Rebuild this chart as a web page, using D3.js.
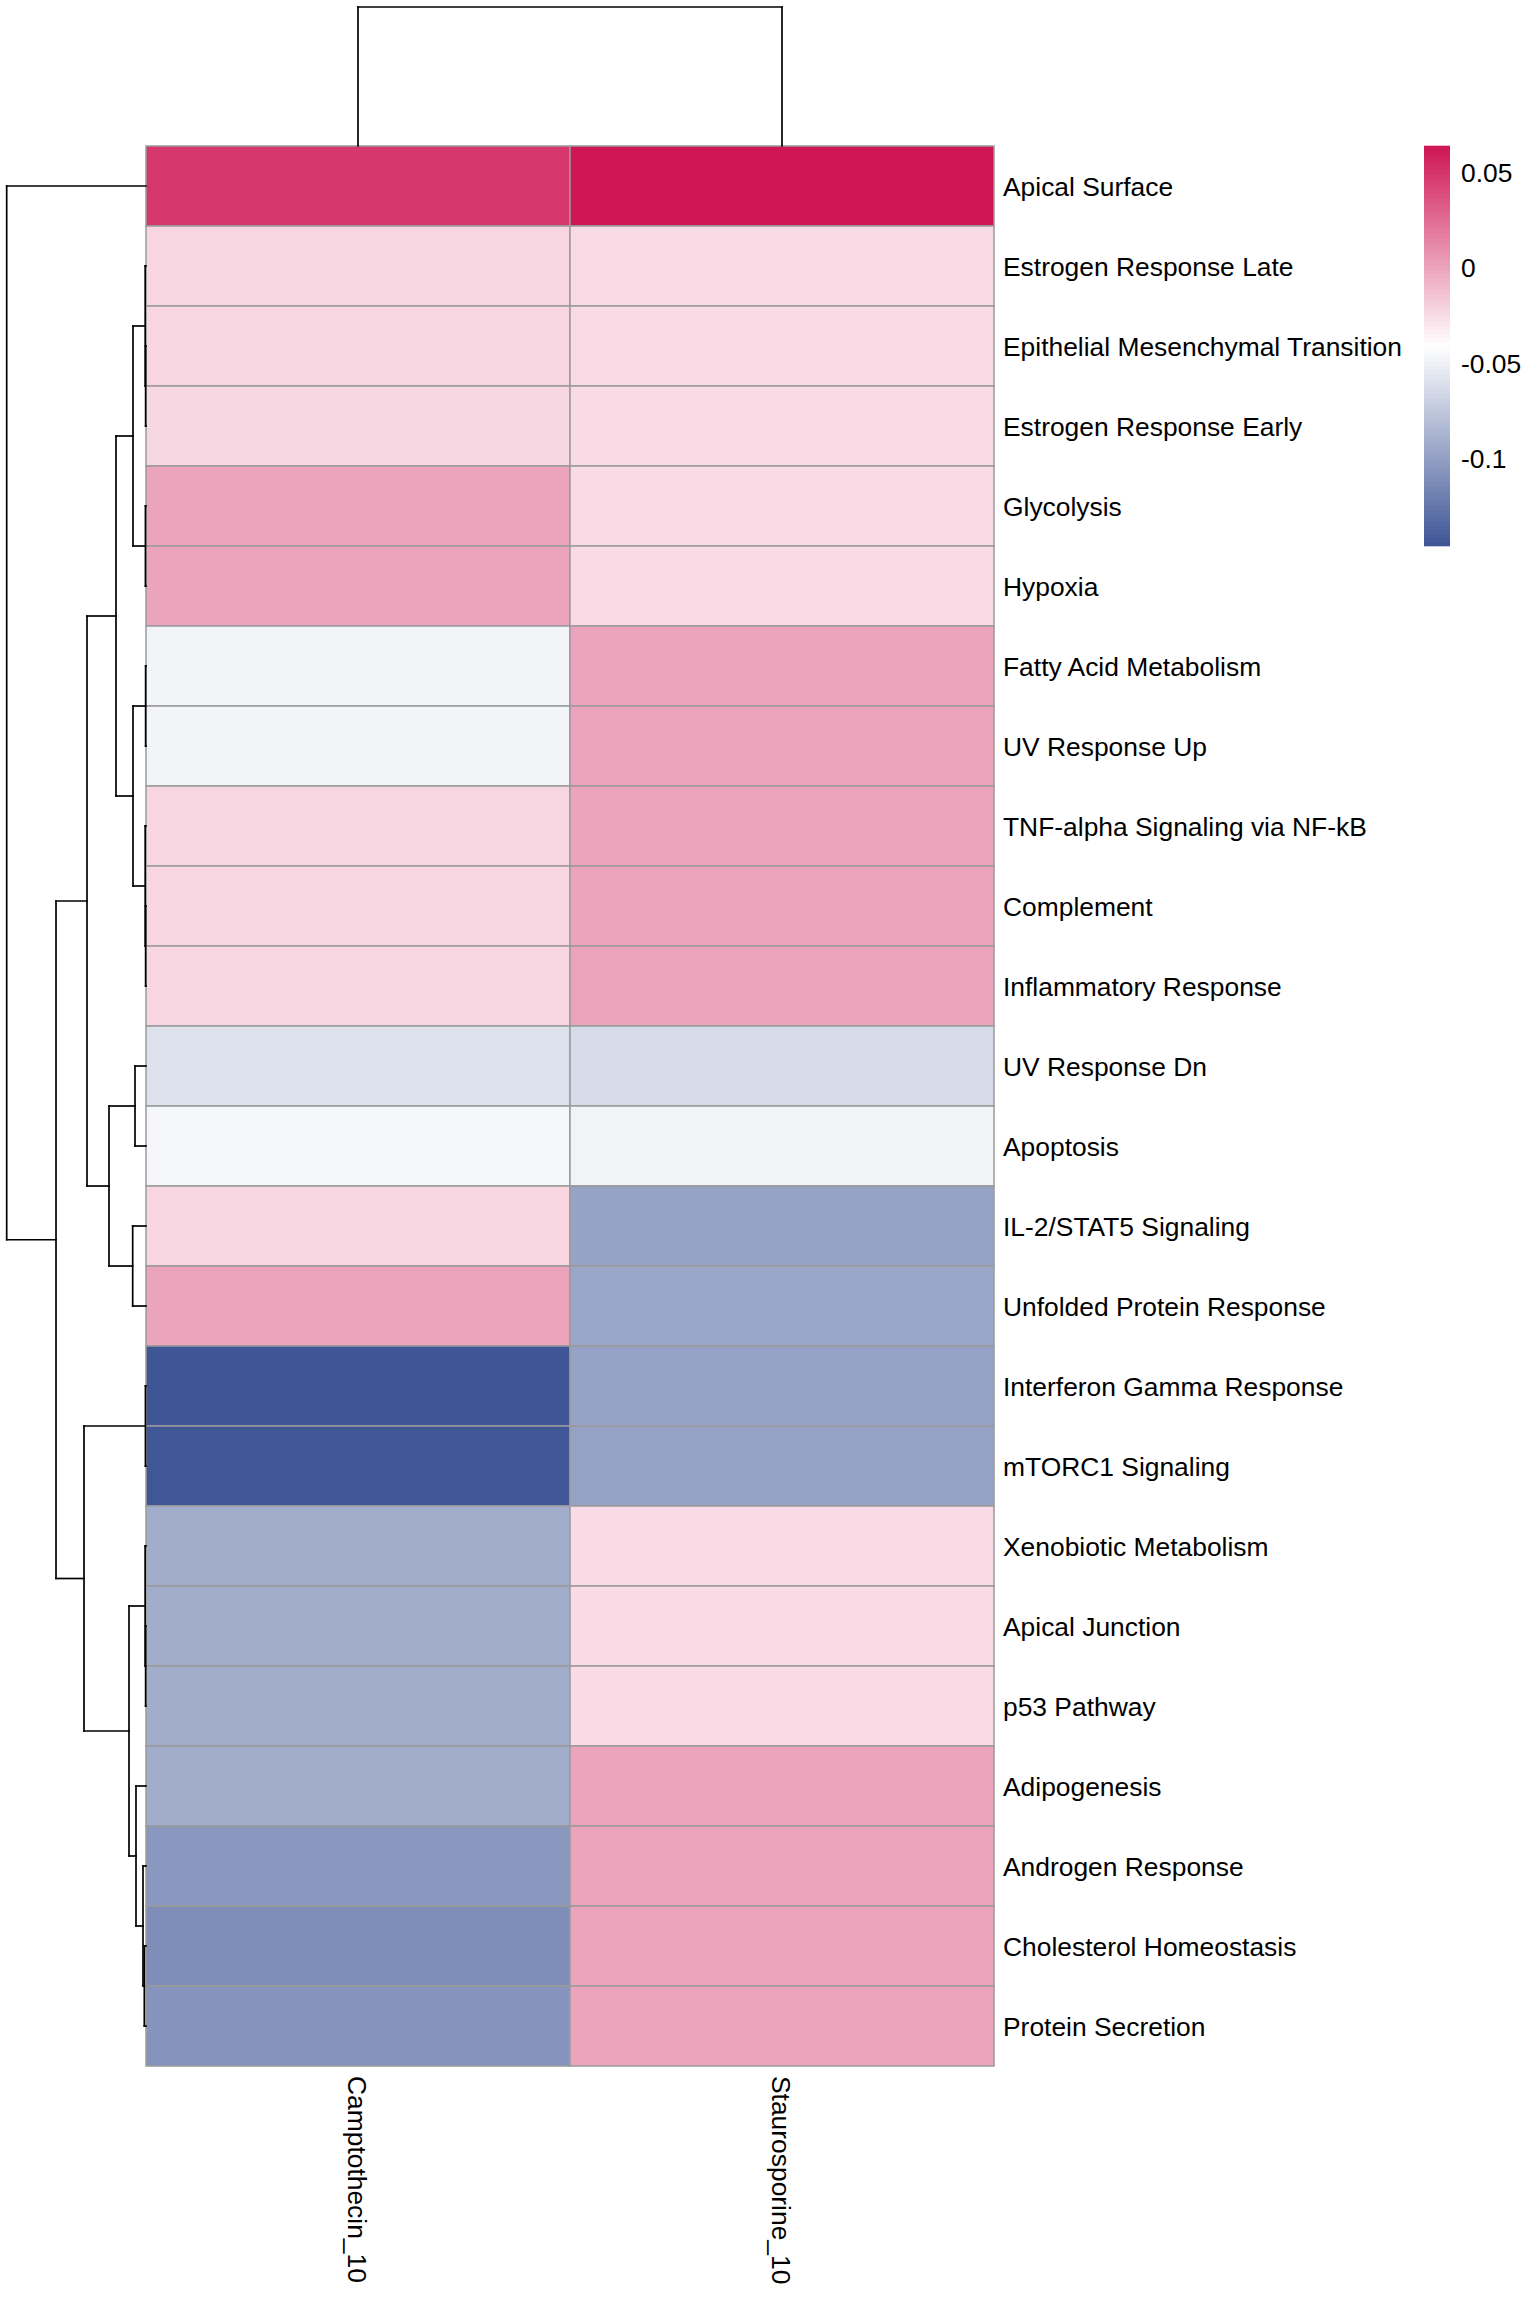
<!DOCTYPE html>
<html>
<head>
<meta charset="utf-8">
<script src="https://cdn.jsdelivr.net/npm/d3@7"></script>
<style>
  html, body { margin: 0; padding: 0; background: #ffffff; }
  svg { display: block; }
  text { font-family: "Liberation Sans", Arial, Helvetica, sans-serif; fill: #000; }
</style>
</head>
<body>
<svg id="chart" width="1536" height="2304"></svg>
<script>
// ---------------- DATA ----------------
const rowNames = [
  "Apical Surface", "Estrogen Response Late", "Epithelial Mesenchymal Transition",
  "Estrogen Response Early", "Glycolysis", "Hypoxia", "Fatty Acid Metabolism",
  "UV Response Up", "TNF-alpha Signaling via NF-kB", "Complement",
  "Inflammatory Response", "UV Response Dn", "Apoptosis", "IL-2/STAT5 Signaling",
  "Unfolded Protein Response", "Interferon Gamma Response", "mTORC1 Signaling",
  "Xenobiotic Metabolism", "Apical Junction", "p53 Pathway", "Adipogenesis",
  "Androgen Response", "Cholesterol Homeostasis", "Protein Secretion"
];
const columnNames = ["Camptothecin_10", "Staurosporine_10"];

const camptothecin = [
  0.0487, -0.0226, -0.0226, -0.0228, 0.0003, 0.0003, -0.0480, -0.0480,
  -0.0226, -0.0226, -0.0226, -0.0594, -0.0464, -0.0226, 0.0003, -0.1455,
  -0.1450, -0.0914, -0.0914, -0.0914, -0.0914, -0.1043, -0.1103, -0.1065
];
const staurosporine = [
  0.0636, -0.0250, -0.0250, -0.0250, -0.0250, -0.0250, 0.0000, 0.0000,
  0.0001, 0.0000, 0.0002, -0.0632, -0.0485, -0.0973, -0.0951, -0.0984,
  -0.0984, -0.0250, -0.0248, -0.0250, 0.0000, 0.0002, 0.0001, 0.0000
];

const legendTicks = [0.05, 0, -0.05, -0.1];
const legendTickLabels = ["0.05", "0", "-0.05", "-0.1"];

// Row dendrogram merges (hclust style): negative = leaf (1-based), positive = earlier merge (1-based)
const rowMerges = [
  [-3, -4, 0.0006],    // 1
  [-2, 1, 0.0013],     // 2
  [-5, -6, 0.0009],    // 3
  [2, 3, 0.0208],      // 4
  [-7, -8, 0.0006],    // 5
  [-10, -11, 0.0006],  // 6
  [-9, 6, 0.0013],     // 7
  [5, 7, 0.0208],      // 8
  [4, 8, 0.0480],      // 9
  [-12, -13, 0.0176],  // 10
  [-14, -15, 0.0213],  // 11
  [10, 11, 0.0592],    // 12
  [9, 12, 0.0944],     // 13
  [-16, -17, 0.0009],  // 14
  [-19, -20, 0.0006],  // 15
  [-18, 15, 0.0014],   // 16
  [-23, -24, 0.0027],  // 17
  [-22, 17, 0.0048],   // 18
  [-21, 18, 0.0160],   // 19
  [16, 19, 0.0272],    // 20
  [14, 20, 0.0992],    // 21
  [13, 21, 0.1440],    // 22
  [-1, 22, 0.2229]     // 23
];
const colMerges = [
  [-1, -2, 0.3100]
];

// ---------------- LAYOUT ----------------
const svg = d3.select("#chart");
svg.append("rect").attr("width", 1536).attr("height", 2304).attr("fill", "#ffffff");

const heat = { left: 146, right: 994, top: 146, bottom: 2066 };
const dendroLeft = 6.7, dendroTop = 7;
const fontSize = 26.4;

const x = d3.scaleBand().domain(d3.range(columnNames.length)).range([heat.left, heat.right]);
const y = d3.scaleBand().domain(d3.range(rowNames.length)).range([heat.top, heat.bottom]);

const allVals = camptothecin.concat(staurosporine);
const [vmin, vmax] = d3.extent(allVals);
const vmid = (vmin + vmax) / 2;
const color = d3.scaleLinear()
  .domain([vmin, vmid, vmax])
  .range(["#3E5596", "#FFFFFF", "#CF1655"])
  .interpolate(d3.interpolateRgb);

const series = [camptothecin, staurosporine];
const cells = [];
series.forEach((vals, ci) => vals.forEach((v, ri) => cells.push({ ci, ri, v })));

// cells
svg.append("g").selectAll("rect").data(cells).join("rect")
  .attr("x", d => x(d.ci))
  .attr("y", d => y(d.ri))
  .attr("width", x.bandwidth())
  .attr("height", y.bandwidth())
  .attr("fill", d => color(d.v))
  .attr("stroke", "#9a9a9a")
  .attr("stroke-width", 1.5);

// ---------------- DENDROGRAMS ----------------
function buildDendro(merges, leafPos) {
  // returns segments and node positions
  const nodes = [];
  const segs = [];
  const getPos = (id) => id < 0 ? { p: leafPos(-id - 1), h: 0 } : nodes[id - 1];
  merges.forEach(([a, b, h]) => {
    const A = getPos(a), B = getPos(b);
    segs.push({ h1: h, h2: h, p1: A.p, p2: B.p });   // connecting bar
    segs.push({ h1: h, h2: A.h, p1: A.p, p2: A.p }); // arm to child a
    segs.push({ h1: h, h2: B.h, p1: B.p, p2: B.p }); // arm to child b
    nodes.push({ p: (A.p + B.p) / 2, h });
  });
  return segs;
}

// row dendrogram (left)
const rowH = d3.scaleLinear()
  .domain([0, d3.max(rowMerges, d => d[2])])
  .range([heat.left, dendroLeft]);
const rowSegs = buildDendro(rowMerges, i => y(i) + y.bandwidth() / 2);
svg.append("g").selectAll("line").data(rowSegs).join("line")
  .attr("x1", d => rowH(d.h1)).attr("x2", d => rowH(d.h2))
  .attr("y1", d => d.p1).attr("y2", d => d.p2)
  .attr("stroke", "#000").attr("stroke-width", 1.7)
  .attr("stroke-linecap", "square");

// column dendrogram (top)
const colH = d3.scaleLinear()
  .domain([0, d3.max(colMerges, d => d[2])])
  .range([heat.top, dendroTop]);
const colSegs = buildDendro(colMerges, i => x(i) + x.bandwidth() / 2);
svg.append("g").selectAll("line").data(colSegs).join("line")
  .attr("y1", d => colH(d.h1)).attr("y2", d => colH(d.h2))
  .attr("x1", d => d.p1).attr("x2", d => d.p2)
  .attr("stroke", "#000").attr("stroke-width", 1.7)
  .attr("stroke-linecap", "square");

// ---------------- LABELS ----------------
svg.append("g").selectAll("text").data(rowNames).join("text")
  .attr("x", heat.right + 9)
  .attr("y", (d, i) => y(i) + y.bandwidth() / 2)
  .attr("dy", "0.36em")
  .attr("font-size", fontSize)
  .text(d => d);

svg.append("g").selectAll("text").data(columnNames).join("text")
  .attr("transform", (d, i) => `translate(${x(i) + x.bandwidth() / 2},${heat.bottom + 10}) rotate(90)`)
  .attr("dy", "0.36em")
  .attr("font-size", fontSize)
  .text(d => d);

// ---------------- LEGEND ----------------
const leg = { left: 1424, right: 1450, top: 146, bottom: 546 };
const legY = d3.scaleLinear().domain([vmin, vmax]).range([leg.bottom, leg.top]);
const nBins = 100;
const binVals = d3.range(nBins).map(i => vmin + (i + 0.5) * (vmax - vmin) / nBins);
const binH = (leg.bottom - leg.top) / nBins;
svg.append("g").selectAll("rect").data(binVals).join("rect")
  .attr("x", leg.left)
  .attr("width", leg.right - leg.left)
  .attr("y", d => legY(d) - binH / 2 - 0.3)
  .attr("height", binH + 0.6)
  .attr("fill", d => color(d));

svg.append("g").selectAll("text").data(legendTicks).join("text")
  .attr("x", leg.right + 11)
  .attr("y", d => legY(d))
  .attr("dy", "0.36em")
  .attr("font-size", fontSize)
  .text((d, i) => legendTickLabels[i]);
</script>
</body>
</html>
